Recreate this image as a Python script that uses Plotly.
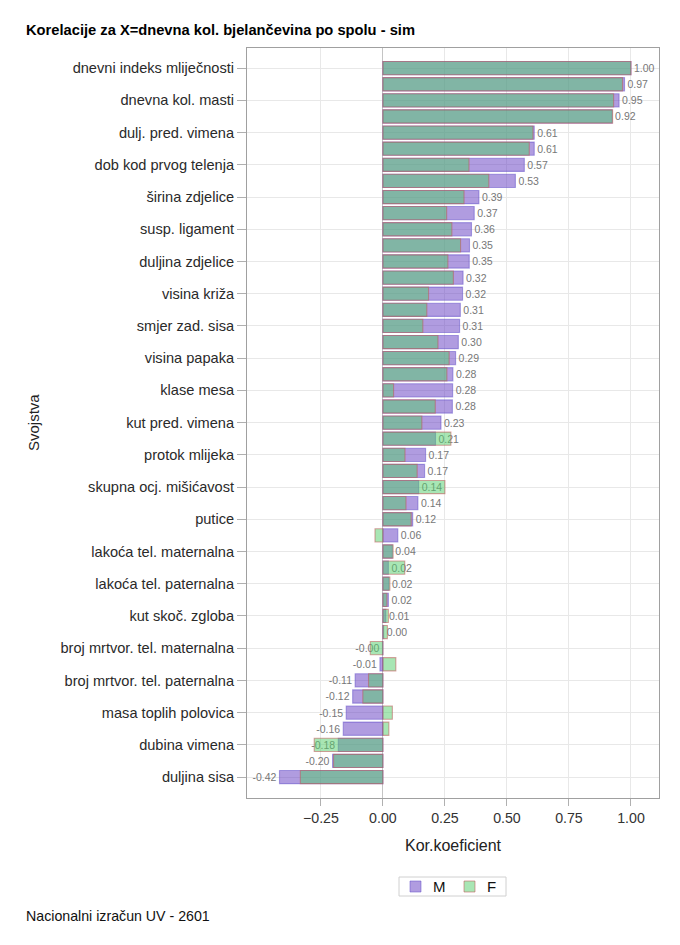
import plotly.graph_objects as go

# labels shown on the axis (every second row)
svojstva = [
    "dnevni indeks mliječnosti", "dnevna kol. masti", "dulj. pred. vimena",
    "dob kod prvog telenja", "širina zdjelice", "susp. ligament",
    "duljina zdjelice", "visina križa", "smjer zad. sisa", "visina papaka",
    "klase mesa", "kut pred. vimena", "protok mlijeka",
    "skupna ocj. mišićavost", "putice", "lakoća tel. maternalna",
    "lakoća tel. paternalna", "kut skoč. zgloba", "broj mrtvor. tel. maternalna",
    "broj mrtvor. tel. paternalna", "masa toplih polovica", "dubina vimena",
    "duljina sisa",
]

# correlation coefficients, one value per row (45 rows)
kor_m = [
    1.00, 0.974, 0.952, 0.924, 0.610, 0.610, 0.570, 0.534, 0.387, 0.368,
    0.357, 0.349, 0.348, 0.323, 0.321, 0.312, 0.309, 0.304, 0.293, 0.282,
    0.281, 0.280, 0.234, 0.212, 0.172, 0.168, 0.144, 0.141, 0.120, 0.060,
    0.038, 0.022, 0.024, 0.022, 0.012, 0.003, -0.002, -0.012, -0.112, -0.122,
    -0.148, -0.160, -0.180, -0.203, -0.417,
]
kor_f = [
    1.00, 0.966, 0.930, 0.926, 0.605, 0.590, 0.347, 0.427, 0.327, 0.257,
    0.278, 0.313, 0.262, 0.284, 0.184, 0.177, 0.161, 0.222, 0.267, 0.258,
    0.043, 0.211, 0.157, 0.274, 0.089, 0.138, 0.250, 0.093, 0.114, -0.032,
    0.041, 0.088, 0.028, 0.016, 0.022, 0.018, -0.051, 0.052, -0.058, -0.081,
    0.038, 0.024, -0.277, -0.199, -0.333,
]

font = "Liberation Sans, Arial, sans-serif"
rows = list(range(len(kor_m)))

col_m = "rgba(97,57,193,0.5)"
col_f = "rgba(81,205,105,0.5)"
line_m = "rgba(95,75,200,0.5)"
line_f = "rgba(190,90,90,0.55)"

fig = go.Figure()
fig.add_trace(go.Bar(
    y=rows, x=kor_m, orientation="h", name="M", width=0.82,
    marker=dict(color=col_m, line=dict(color=line_m, width=1.1)),
    text=[f"{v:.2f}" for v in kor_m], textposition="outside",
    textfont=dict(size=10.5, color="#777777", family=font),
    constraintext="none", cliponaxis=False,
))
fig.add_trace(go.Bar(
    y=rows, x=kor_f, orientation="h", name="F", width=0.82,
    marker=dict(color=col_f, line=dict(color=line_f, width=1.1)),
))

# page body has an 8px margin, so the figure is 8px smaller than the window
W, H = 672, 937
L, T, PW, PH = 239, 40, 412, 750


def px(fx):
    return (fx - L) / PW


def py(fy):
    return (T + PH - fy) / PH


# hand-drawn legend box (plotly's own legend is too tall)
shapes = [
    dict(type="rect", xref="paper", yref="paper", x0=px(391), x1=px(498),
         y0=py(869), y1=py(888), line=dict(color="#d0d0d0", width=1),
         fillcolor="white"),
    dict(type="rect", xref="paper", yref="paper", x0=px(402), x1=px(413),
         y0=py(873), y1=py(884), line=dict(color=line_m, width=1),
         fillcolor=col_m),
    dict(type="rect", xref="paper", yref="paper", x0=px(456), x1=px(467),
         y0=py(873), y1=py(884), line=dict(color=line_f, width=1),
         fillcolor=col_f),
]

annotations = [
    dict(text="<b>Korelacije za X=dnevna kol. bjelančevina po spolu - sim</b>",
         x=px(16), y=py(22), xanchor="left",
         font=dict(size=14.7, color="#000000")),
    dict(text="Svojstva", textangle=-90, x=px(25), y=0.5, xanchor="center",
         font=dict(size=15, color="#222222")),
    dict(text="Nacionalni izračun UV - 2601", x=px(16), y=py(908),
         xanchor="left", font=dict(size=14.2, color="#111111")),
    dict(text="M", x=px(423), y=py(878.5), xanchor="left",
         font=dict(size=15, color="#111111")),
    dict(text="F", x=px(477), y=py(878.5), xanchor="left",
         font=dict(size=15, color="#111111")),
]
for a in annotations:
    a.update(xref="paper", yref="paper", yanchor="middle", showarrow=False)

fig.update_layout(
    width=W, height=H,
    barmode="overlay",
    plot_bgcolor="white", paper_bgcolor="white",
    font=dict(family=font, size=15, color="#222222"),
    margin=dict(l=L, r=W - L - PW, t=T, b=H - T - PH, autoexpand=False),
    showlegend=False,
    xaxis=dict(
        range=[-0.548, 1.113],
        tickvals=[-0.25, 0, 0.25, 0.5, 0.75, 1.0], tickformat=".2f",
        ticks="outside", ticklen=7, tickcolor="#b0b0b0",
        tickfont=dict(size=14.2, color="#333333"),
        showgrid=True, gridcolor="#e8e8e8",
        zeroline=True, zerolinecolor="#c4c4c4", zerolinewidth=1,
        showline=True, linecolor="#a0a0a0", mirror=True,
        title=dict(text="Kor.koeficient", font=dict(size=16, color="#222222"),
                   standoff=14),
    ),
    yaxis=dict(
        range=[len(kor_m) - 1 + 1.3, -1.25],
        tickvals=rows[::2], ticktext=svojstva,
        ticks="outside", ticklen=9, tickcolor="#b0b0b0",
        tickfont=dict(size=14.6, color="#2a2a2a"),
        showgrid=True, gridcolor="#e8e8e8", zeroline=False,
        showline=True, linecolor="#a0a0a0", mirror=True,
    ),
    shapes=shapes,
    annotations=annotations,
)

fig.write_html("out.html")
